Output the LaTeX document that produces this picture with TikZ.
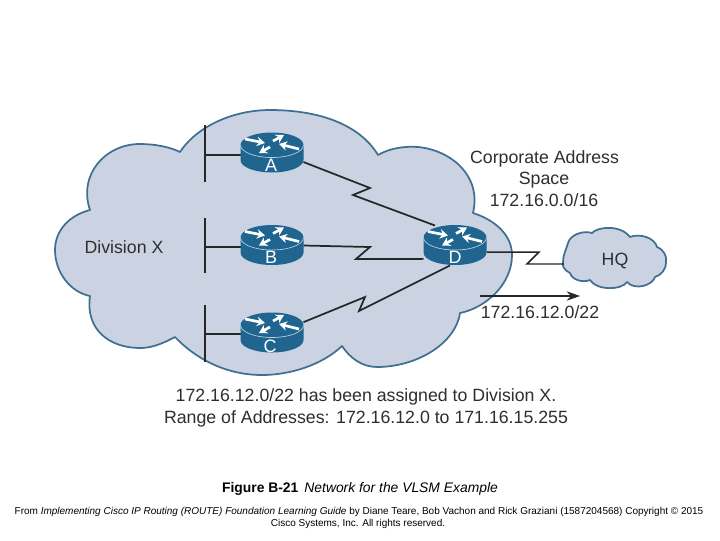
\documentclass[tikz,border=0pt]{standalone}
\usepackage{fontspec}
\setmainfont{Liberation Sans}
\usetikzlibrary{arrows.meta}
\definecolor{cloudfill}{HTML}{CBD3E3}
\definecolor{cloudedge}{HTML}{3F7092}
\definecolor{routerblue}{HTML}{1F6590}
\definecolor{ink}{HTML}{2E2E2E}
\tikzset{
  cloudshape/.style={fill=cloudfill,draw=cloudedge,line width=1.3pt,line join=round},
  wire/.style={draw=black!85,line width=1.3pt,line join=miter},
  lanbar/.style={draw=black!85,line width=1pt},
  routerbox/.style={minimum width=47.25pt,minimum height=30pt,inner sep=0pt,outer sep=0pt},
  lbl/.style={text=ink,font=\fontsize{13.3pt}{15pt}\selectfont,inner sep=0pt,align=center},
  lettertext/.style={text=white,font=\fontsize{13.5pt}{15pt}\selectfont,inner sep=0pt},
  iconarrow/.style={draw=white,line width=2pt,-{Stealth[length=6pt,width=7pt]}},
  pics/routericon/.style={code={
    \fill[routerblue] (-31.5,-8) -- (-31.5,7)
      .. controls (-31.5,14) and (-17.3,19.5) .. (0,19.5)
      .. controls (17.3,19.5) and (31.5,14) .. (31.5,7) -- (31.5,-8)
      .. controls (31.5,-15) and (17.3,-20.5) .. (0,-20.5)
      .. controls (-17.3,-20.5) and (-31.5,-15) .. (-31.5,-8) -- cycle;
    \draw[white!70!routerblue,line width=0.5pt] (-31.5,-8)
      .. controls (-31.5,-1) and (-17.3,4.5) .. (0,4.5)
      .. controls (17.3,4.5) and (31.5,-1) .. (31.5,-8);
    \draw[iconarrow] (-27,-14) -- (-7,-10);
    \draw[iconarrow] (27,-4) -- (7,-9);
    \draw[iconarrow] (1,-12) -- (12,-18);
    \draw[iconarrow] (-2,-6) -- (-13,0);
  }}
}
\begin{document}
\begin{tikzpicture}[x=0.75pt,y=-0.75pt]
\useasboundingbox (0,0) rectangle (720,540);
\fill[white] (0,0) rectangle (720,540);
% main cloud
\path[cloudshape] (180,152) .. controls (198,125) and (235,110) .. (270,110)
 .. controls (320,110) and (360,125) .. (378,155)
 .. controls (390,148) and (405,146) .. (418,147)
 .. controls (450,150) and (482,175) .. (473,213)
 .. controls (495,220) and (512,235) .. (512,255)
 .. controls (512,285) and (485,308) .. (460,313)
 .. controls (455,345) and (415,367) .. (377,367)
 .. controls (362,367) and (350,358) .. (342,346)
 .. controls (322,365) and (290,375) .. (262,375)
 .. controls (225,375) and (195,358) .. (175,337)
 .. controls (160,345) and (150,348) .. (140,348)
 .. controls (110,348) and (85,330) .. (90,296)
 .. controls (70,292) and (55,272) .. (55,250)
 .. controls (55,230) and (70,215) .. (90,210)
 .. controls (78,175) and (105,144) .. (140,144)
 .. controls (155,144) and (170,147) .. (180,152) -- cycle;
% HQ cloud
\path[cloudshape] (568,243) .. controls (570,235) and (583,230) .. (592,233)
 .. controls (597,227) and (620,224) .. (630,237)
 .. controls (640,233) and (655,238) .. (657,247)
 .. controls (664,250) and (667,256) .. (666,262)
 .. controls (666,270) and (661,275) .. (655,277)
 .. controls (653,285) and (635,291) .. (627,282)
 .. controls (622,290) and (597,291) .. (590,280)
 .. controls (583,283) and (572,280) .. (570,273)
 .. controls (564,270) and (562,266) .. (563,262)
 .. controls (563,255) and (566,250) .. (568,243) -- cycle;
% router anchors
\node[routerbox] (A) at (272,153) {};
\node[routerbox] (B) at (272,245.5) {};
\node[routerbox] (C) at (272,333) {};
\node[routerbox] (D) at (455,245.5) {};
% free points
\coordinate (a1) at (370,188); \coordinate (a2) at (353,195);
\coordinate (b1) at (370,247); \coordinate (b2) at (356,259);
\coordinate (c1) at (365,297); \coordinate (c2) at (359,311);
\coordinate (d1) at (539,252); \coordinate (d2) at (527,264);
\coordinate (hqin) at (564,264);
\coordinate (arrowstart) at (480,296); \coordinate (arrowend) at (580,296);
\coordinate (barAtop) at (205,125); \coordinate (barAbot) at (205,182); \coordinate (barAmid) at (205,155);
\coordinate (barBtop) at (205,218); \coordinate (barBbot) at (205,273); \coordinate (barBmid) at (205,247);
\coordinate (barCtop) at (205,305); \coordinate (barCbot) at (205,362); \coordinate (barCmid) at (205,334);
% serial links
\draw[wire] (A.-16) -- (a1) -- (a2) -- (D.135);
\draw[wire] (B.east) -- (b1) -- (b2) -- (D.203);
\draw[wire] (C.19) -- (c1) -- (c2) -- (D.256);
\draw[wire,line width=1.1pt] (D.-12) -- (d1) -- (d2) -- (hqin);
% LAN bars
\draw[lanbar] (barAtop) -- (barAbot);
\draw[lanbar] (barBtop) -- (barBbot);
\draw[lanbar] (barCtop) -- (barCbot);
\draw[lanbar] (barAmid) -- (barAmid -| A.west);
\draw[wire] (barBmid) -- (barBmid -| B.west);
\draw[wire] (barCmid) -- (barCmid -| C.west);
% routers
\pic at (A) {routericon};
\pic at (B) {routericon};
\pic at (C) {routericon};
\pic at (D) {routericon};
\node[lettertext] (Aletter) at (271,165) {A};
\node[lettertext] (Bletter) at (271,257.5) {B};
\node[lettertext] (Cletter) at (270,346) {C};
\node[lettertext] (Dletter) at (455,257.5) {D};
% arrow
\draw[draw=black!85,line width=1pt,-{Stealth[length=10pt,width=7pt]}] (arrowstart) -- (arrowend);
% labels
\node[lbl] (divx) at (124,247) {Division X};
\node[lbl] (hq) at (615,261) {HQ};
\node[lbl] (corp1) at (544.5,158.5) {Corporate Address};
\node[lbl] (corp2) at (544,180) {Space};
\node[lbl] (corp3) at (544,200.5) {172.16.0.0/16};
\node[lbl] (sub) at (540,312.5) {172.16.12.0/22};
\node[lbl] (note1) at (366,397) {172.16.12.0/22 has been assigned to Division X.};
\node[lbl] (note2) at (366,418.5) {Range of Addresses: 172.16.12.0 to 171.16.15.255};
\node[inner sep=0pt,text=black,font=\fontsize{10.4pt}{12pt}\selectfont] (cap) at (360,488.5) {\textbf{Figure B-21}\hspace{4.5pt}\textit{Network for the VLSM Example}};
\node[inner sep=0pt,text=black,font=\fontsize{7.5pt}{9pt}\selectfont] (foot1) at (359,512) {From \textit{Implementing Cisco IP Routing (ROUTE) Foundation Learning Guide} by Diane Teare, Bob Vachon and Rick Graziani (1587204568) Copyright © 2015};
\node[inner sep=0pt,text=black,font=\fontsize{7.5pt}{9pt}\selectfont] (foot2) at (358,524) {Cisco Systems, Inc. All rights reserved.};
\end{tikzpicture}
\end{document}
